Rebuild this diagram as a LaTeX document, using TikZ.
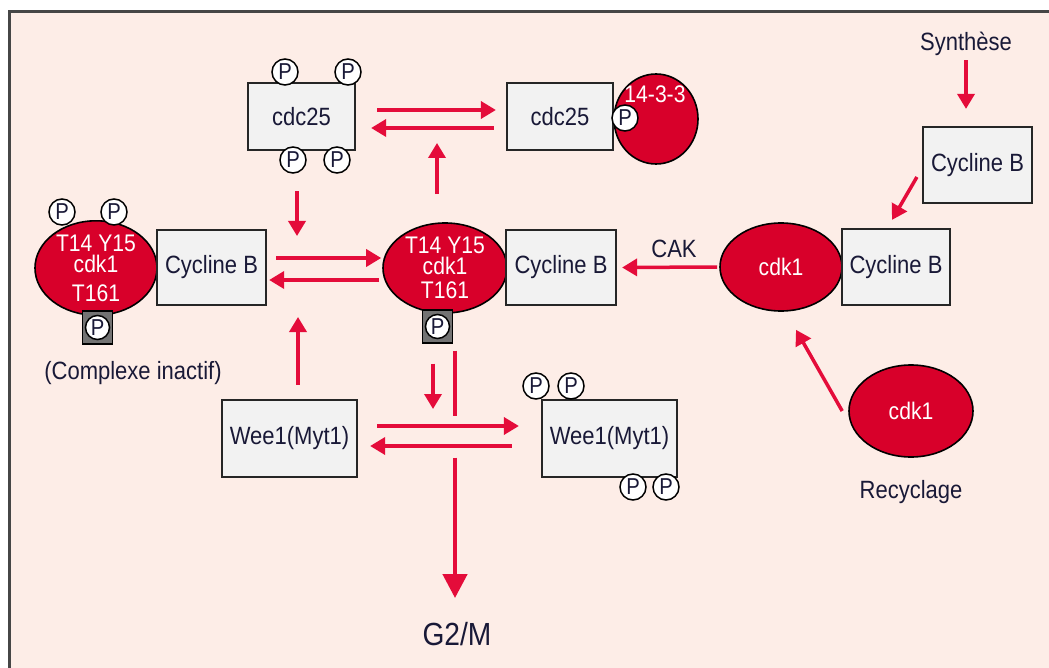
\documentclass[tikz,border=0pt]{standalone}
\usepackage{fontspec}
\setmainfont[FakeStretch=0.88]{Liberation Sans}
\usetikzlibrary{arrows.meta,shapes.geometric,calc}

\definecolor{bgpeach}{RGB}{253,237,231}
\definecolor{cdkred}{RGB}{216,0,42}
\definecolor{arrred}{RGB}{228,12,58}
\definecolor{boxgray}{RGB}{242,242,242}
\definecolor{inkblue}{RGB}{25,25,55}
\definecolor{framegray}{RGB}{70,70,70}

\tikzset{
  txt/.style={font=\fontsize{25}{22}\selectfont, text=inkblue},
  lbl/.style={txt, inner sep=0pt},
  protbox/.style={rectangle, draw=black!85, line width=2.2pt, fill=boxgray, inner sep=0pt, txt},
  cdk/.style={ellipse, draw=black, line width=1.6pt, fill=cdkred, inner sep=0pt,
    text=white, align=center, font=\fontsize{24}{21}\selectfont},
  phos/.style={circle, draw=black, line width=1.5pt, fill=white, minimum size=26pt,
    inner sep=0pt, font=\fontsize{23}{23}\selectfont, text=inkblue},
  phossq/.style={rectangle, draw=black, line width=1.2pt, fill=black!55,
    minimum width=30pt, minimum height=33pt, inner sep=0pt},
  arr/.style={draw=arrred, line width=3.5pt, -{Triangle[length=15pt,width=17pt]}},
  bigline/.style={draw=arrred, line width=4.5pt},
  bigarr/.style={bigline, -{Triangle[length=24pt,width=24pt]}}
}

\begin{document}
\begin{tikzpicture}[x=1pt,y=-1pt]
\useasboundingbox (0,0) rectangle (1049,668);
\clip (0,0) rectangle (1049,668);
\fill[white] (0,0) rectangle (1049,668);
% panel
\draw[framegray, line width=3pt, fill=bgpeach] (9,11.5) rectangle (1100,720);

% ---- cdc25, free and bound to 14-3-3 ----
\node[protbox, minimum width=107pt, minimum height=67pt] (cdcL) at (301.5,116.5) {cdc25};
\node[phos] (pc1) at (285,72) {P};
\node[phos] (pc2) at (348,72) {P};
\node[phos] (pc3) at (293,160) {P};
\node[phos] (pc4) at (337,160) {P};

\node[ellipse, draw=black, line width=1.6pt, fill=cdkred, minimum width=84pt, minimum height=90pt] (adapt) at (656,119) {};
\node[protbox, minimum width=106pt, minimum height=67pt] (cdcR) at (560,116.5) {cdc25};
\node[lbl, text=white, font=\fontsize{24}{24}\selectfont] (adaptlbl) at (655,94) {14-3-3};
\node[phos] (pc5) at (625,118) {P};

% ---- inactive complex ----
\node[cdk, minimum width=122pt, minimum height=90pt] (cdkL) at (96,268) {T14 Y15\\cdk1\\[8pt]T161};
\node[protbox, minimum width=109pt, minimum height=75pt] (cycL) at (211.5,267.5) {Cycline B};
\node[phos] (pl1) at (62,212) {P};
\node[phos] (pl2) at (114,212) {P};
\node[phossq] (pLsq) at (97.5,327.5) {};
\node[phos, minimum size=24pt] (pL) at (pLsq) {P};
\node[lbl] (inact) at (133,373) {(Complexe inactif)};

% ---- complex in the middle ----
\node[cdk, minimum width=124pt, minimum height=90pt] (cdkM) at (445,268) {T14 Y15\\cdk1\\[3pt]T161};
\node[protbox, minimum width=110pt, minimum height=75pt] (cycM) at (561,267.5) {Cycline B};
\node[phossq] (pMsq) at (437.5,326.5) {};
\node[phos, minimum size=24pt] (pM) at (pMsq) {P};

% ---- synthesis and assembly of cdk1 / cycline B ----
\node[lbl] (synth) at (966,44) {Synthèse};
\node[protbox, minimum width=109pt, minimum height=76pt] (cycTop) at (977.5,165) {Cycline B};
\node[cdk, minimum width=122pt, minimum height=88pt] (cdkR) at (781,267) {cdk1};
\node[protbox, minimum width=108pt, minimum height=76pt] (cycR) at (896,267) {Cycline B};
\node[lbl] (cak) at (674,249) {CAK};
\node[cdk, minimum width=124pt, minimum height=92pt] (cdkRec) at (911,411) {cdk1};
\node[lbl] (recy) at (911,492) {Recyclage};

% ---- Wee1 / Myt1 ----
\node[protbox, minimum width=135pt, minimum height=77pt] (weeL) at (289.5,438.5) {Wee1(Myt1)};
\node[protbox, minimum width=135pt, minimum height=77pt] (weeR) at (609.5,438.5) {Wee1(Myt1)};
\node[phos] (pw1) at (536,386) {P};
\node[phos] (pw2) at (571,386) {P};
\node[phos] (pw3) at (633,487) {P};
\node[phos] (pw4) at (666,487) {P};

\node[lbl, font=\fontsize{32}{32}\selectfont] (g2m) at (457,634) {G2/M};

% reaction points acted upon by the enzymes
\coordinate (cdcMid) at (437,143);
\coordinate (cplxMid) at (297,236);
\coordinate (cplxMidB) at (298,317);
\coordinate (weeMid) at (433,409);

% ---- connectors ----
\draw[arr] ([xshift=21pt,yshift=6.5pt]cdcL.east) -- ([xshift=-10pt,yshift=6.5pt]cdcR.west);
\draw[arr] ([xshift=-12pt,yshift=-11.5pt]cdcR.west) -- ([xshift=15pt,yshift=-11.5pt]cdcL.east);
\draw[arr] ([xshift=-8pt,yshift=28pt]cdkM.north) -- (cdcMid);
\draw[arr] ([xshift=-4.5pt,yshift=-40pt]cdcL.south) -- (cplxMid);

\draw[arr] ([xshift=9pt,yshift=9.5pt]cycL.east) -- ([xshift=-1pt,yshift=10pt]cdkM.west);
\draw[arr] ([xshift=-3pt,yshift=-12pt]cdkM.west) -- ([xshift=2pt,yshift=-12.5pt]cycL.east);
\draw[arr] ([xshift=8.5pt,yshift=14pt]weeL.north) -- (cplxMidB);

\draw[arr] ([xshift=-2pt]cdkR.west) -- ([xshift=5pt]cycM.east);
\draw[arr] ([yshift=-4.5pt]synth.south) -- ([xshift=-11.5pt,yshift=17pt]cycTop.north);
\draw[arr] ([xshift=-5pt,yshift=-12pt]cycTop.west) -- ([xshift=-4pt,yshift=8pt]cycR.north);
\draw[arr] ([xshift=-6pt]cdkRec.west) -- ([xshift=15pt,yshift=-18pt]cdkR.south);

\draw[arr] ([xshift=19pt,yshift=12.5pt]weeL.east) -- ([xshift=-22pt,yshift=12.5pt]weeR.west);
\draw[arr] ([xshift=-29pt,yshift=-7.5pt]weeR.west) -- ([xshift=12pt,yshift=-7.5pt]weeL.east);
\draw[arr] ([xshift=-4.5pt,yshift=-20pt]pMsq.south) -- (weeMid);

% path to G2/M, broken where it crosses the Wee1 arrows
\draw[bigline] ([xshift=17.5pt,yshift=-7pt]pMsq.south) -- ([xshift=17.5pt,yshift=-72pt]pMsq.south);
\draw[bigarr] ([xshift=17.5pt,yshift=-114pt]pMsq.south) -- ([xshift=-2pt,yshift=24pt]g2m.north);
\end{tikzpicture}
\end{document}
